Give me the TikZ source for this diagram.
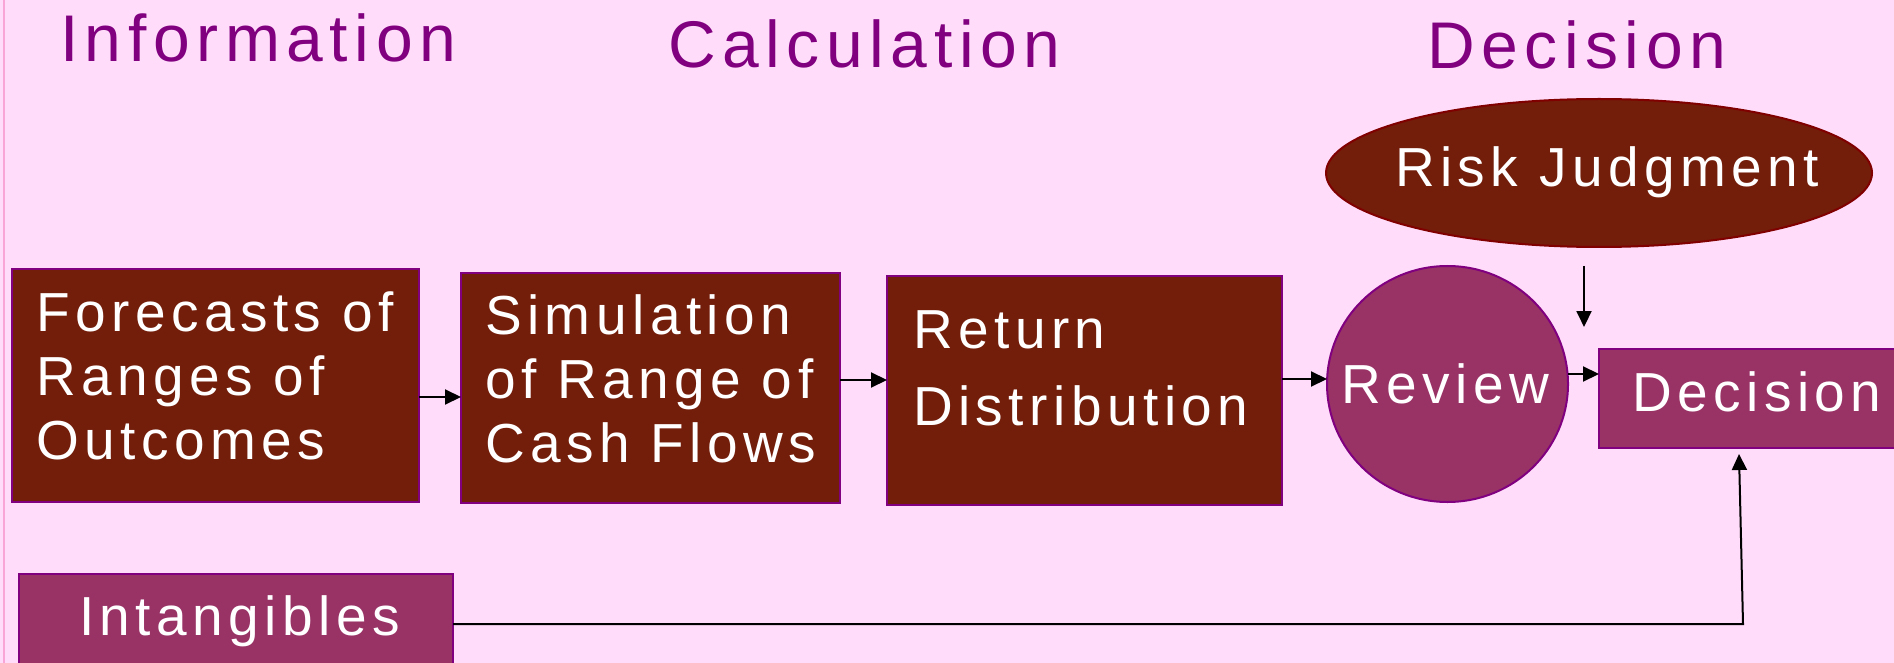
\documentclass[tikz,border=0pt]{standalone}
\usepackage{fontspec}
\setmainfont{Liberation Sans}[LetterSpace=10]
\usetikzlibrary{shapes.geometric,arrows.meta}
\definecolor{bgpink}{RGB}{255,221,250}
\definecolor{edgepink}{RGB}{250,165,215}
\definecolor{brownfill}{RGB}{115,29,11}
\definecolor{plumfill}{RGB}{153,51,102}
\definecolor{bordpurple}{RGB}{128,0,128}
\definecolor{bordred}{RGB}{128,0,0}
\definecolor{titlepurple}{RGB}{128,0,128}
\tikzset{
  brownbox/.style={rectangle, fill=brownfill, draw=bordpurple, line width=1pt, inner sep=0pt, outer sep=0pt},
  plumbox/.style={rectangle, fill=plumfill, draw=bordpurple, line width=1pt, inner sep=0pt, outer sep=0pt},
  boxtext/.style={text=white, inner sep=0pt, outer sep=0pt, align=left, anchor=base west, font=\fontsize{27.5}{32}\selectfont},
  titletext/.style={text=titlepurple, inner sep=0pt, outer sep=0pt, anchor=base west, font=\fontsize{33}{40}\selectfont},
  arr/.style={draw=black, line width=1pt, -{Triangle[length=8pt,width=7.5pt]}}
}
\begin{document}
\begin{tikzpicture}[x=0.5pt,y=-0.5pt]
\useasboundingbox (0,0) rectangle (1894,663);
\fill[bgpink] (0,0) rectangle (1894,663);
\draw[edgepink, line width=1pt] (4,0) -- (4,663);

% titles
\node[titletext] (tinfo) at (60,62) {Information};
\node[titletext] (tcalc) at (668,68) {Calculation};
\node[titletext] (tdec) at (1427,69) {Decision};

% boxes (text nodes anchored at the baseline of their last line)
\node[brownbox, minimum width=203.5pt, minimum height=116.5pt] (fc) at (215.5,385.5) {};
\node[boxtext] (fct) at (36,459) {Forecasts of\\Ranges of\\Outcomes};

\node[brownbox, minimum width=189.5pt, minimum height=115pt] (sim) at (650.5,388) {};
\node[boxtext] (simt) at (485,462) {Simulation\\of Range of\\Cash Flows};

\node[brownbox, minimum width=197.5pt, minimum height=114.5pt] (ret) at (1084.5,390.5) {};
\node[boxtext, font=\fontsize{27.5}{38.5}\selectfont] (rett) at (913,425) {Return\\Distribution};

\node[ellipse, fill=plumfill, draw=bordpurple, line width=1pt, inner sep=0pt, outer sep=0pt, minimum width=120.5pt, minimum height=118pt] (rev) at (1447.5,384) {};
\node[boxtext] (revt) at (1341,403) {Review};

\node[plumbox, minimum width=160.5pt, minimum height=49.5pt] (dec) at (1759.5,398.5) {};
\node[boxtext] (dect) at (1632,411) {Decision};

\node[ellipse, fill=brownfill, draw=bordred, line width=1pt, inner sep=0pt, outer sep=0pt, minimum width=273pt, minimum height=74pt] (risk) at (1599,173) {};
\node[boxtext] (riskt) at (1395,187) {Risk Judgment};

\node[plumbox, minimum width=217pt, minimum height=63pt] (intg) at (236,637) {};
\node[boxtext] (intgt) at (79,635) {Intangibles};

% connectors
\draw[arr] (fc.east |- 0,397) -- (sim.west |- 0,397);
\draw[arr] (sim.east |- 0,380) -- (ret.west |- 0,380);
\draw[arr] (ret.east |- 0,379) -- (rev.west |- 0,379);
\draw[arr] (1568,374) -- (dec.west |- 0,374);
\coordinate (rjs) at (1584,266);
\coordinate (rje) at (1584,327);
\draw[arr] (rjs) -- (rje);
\coordinate (corner) at (1743,624);
\coordinate (dtip) at (1739,454);
\draw[arr] (intg.east |- 0,624) -- (corner) -- (dtip);
\end{tikzpicture}
\end{document}
